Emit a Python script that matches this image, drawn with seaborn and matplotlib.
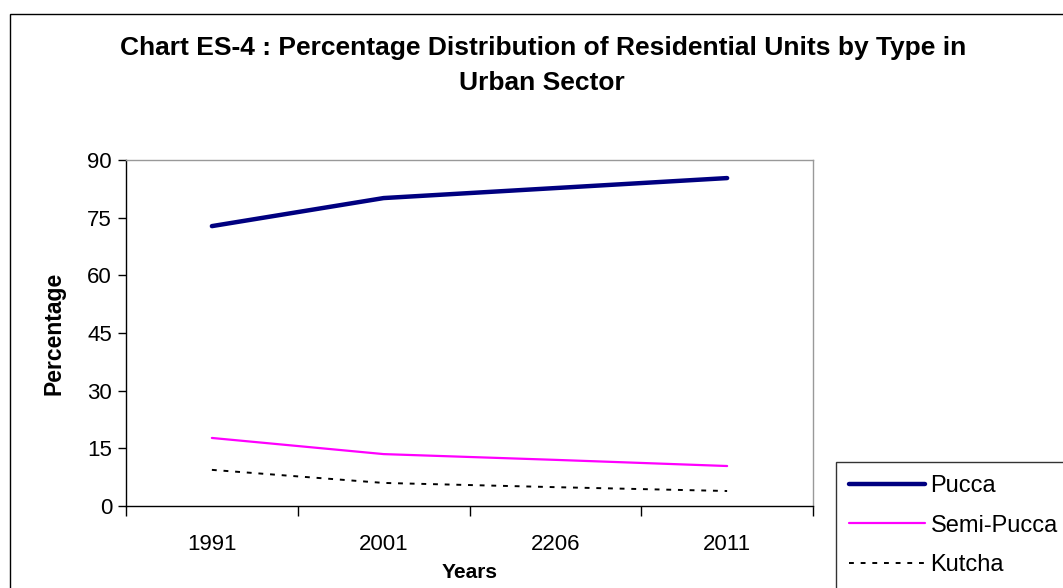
import matplotlib
matplotlib.use("Agg")
import matplotlib.pyplot as plt
import seaborn as sns
import pandas as pd
from matplotlib.patches import Rectangle

years = ["1991", "2001", "2206", "2011"]
pucca = [72.8, 80.1, 82.7, 85.3]
semi_pucca = [17.7, 13.5, 12.0, 10.4]
kutcha = [9.4, 6.0, 4.9, 3.9]
series_names = ["Pucca", "Semi-Pucca", "Kutcha"]

sns.set_theme(style="white")
plt.rcParams['font.family'] = ['Liberation Sans', 'DejaVu Sans']
plt.rcParams['text.color'] = 'black'
plt.rcParams['axes.labelcolor'] = 'black'
plt.rcParams['xtick.color'] = 'black'
plt.rcParams['ytick.color'] = 'black'

df = pd.DataFrame({
    "Years": years * 3,
    "Percentage": pucca + semi_pucca + kutcha,
    "Type": [series_names[0]] * 4 + [series_names[1]] * 4 + [series_names[2]] * 4,
})
df["pos"] = list(range(4)) * 3

fig = plt.figure(figsize=(10.63, 5.88), dpi=100)
ax = fig.add_axes([126/1063, 1-506/588, (813-126)/1063, (506-160)/588])

palette = {"Pucca": "#000080", "Semi-Pucca": "#FF00FF", "Kutcha": "#000000"}
widths = {"Pucca": 3.2, "Semi-Pucca": 1.6, "Kutcha": 1.4}
styles = {"Pucca": "-", "Semi-Pucca": "-", "Kutcha": (0, (2.5, 3.5))}
for name in series_names:
    sub = df[df["Type"] == name]
    sns.lineplot(data=sub, x="pos", y="Percentage", ax=ax, color=palette[name],
                 lw=widths[name], linestyle=styles[name], label=name, legend=False)

ax.set_xlim(-0.5, 3.5)
ax.set_ylim(0, 90)
ax.set_yticks(range(0, 91, 15))
ax.set_xticks([-0.5, 0.5, 1.5, 2.5, 3.5])
ax.set_xticklabels([])
ax.set_xticks(range(4), minor=True)
ax.set_xticklabels(years, minor=True)
ax.tick_params(axis="x", which="major", direction="out", length=7, width=1, color="black", bottom=True)
ax.tick_params(axis="x", which="minor", length=0, pad=20, labelsize=16)
ax.tick_params(axis="y", direction="out", length=6, width=1, color="black", left=True, labelsize=16, pad=4)
for s in ["left", "bottom"]:
    ax.spines[s].set_color("black")
    ax.spines[s].set_linewidth(1)
for s in ["top", "right"]:
    ax.spines[s].set_color("#999999")
    ax.spines[s].set_linewidth(1)
ax.set_xlabel("Years", fontsize=15, fontweight="bold", labelpad=6)
ax.set_ylabel("Percentage", fontsize=16.5, fontweight="bold", labelpad=16)

fig.text(543/1063, 1-48/588, "Chart ES-4 : Percentage Distribution of Residential Units by Type in",
         ha="center", va="center", fontsize=19, fontweight="bold")
fig.text(542/1063, 1-83/588, "Urban Sector", ha="center", va="center", fontsize=19, fontweight="bold")

fig.patches.append(Rectangle((10/1063, -0.1), 1.2, 1-14/588 + 0.1, transform=fig.transFigure,
                             fill=False, edgecolor="black", lw=1))

handles, labels = ax.get_legend_handles_labels()
leg = fig.legend(handles, labels, loc="upper left", bbox_to_anchor=(836/1063, 1-462/588),
                 frameon=True, fancybox=False, fontsize=17, handlelength=3.2,
                 handletextpad=0.25, borderpad=0.55, labelspacing=0.75, borderaxespad=0)
leg.get_frame().set_edgecolor("black")
leg.get_frame().set_linewidth(1)

fig.savefig("out.png", dpi=100)
